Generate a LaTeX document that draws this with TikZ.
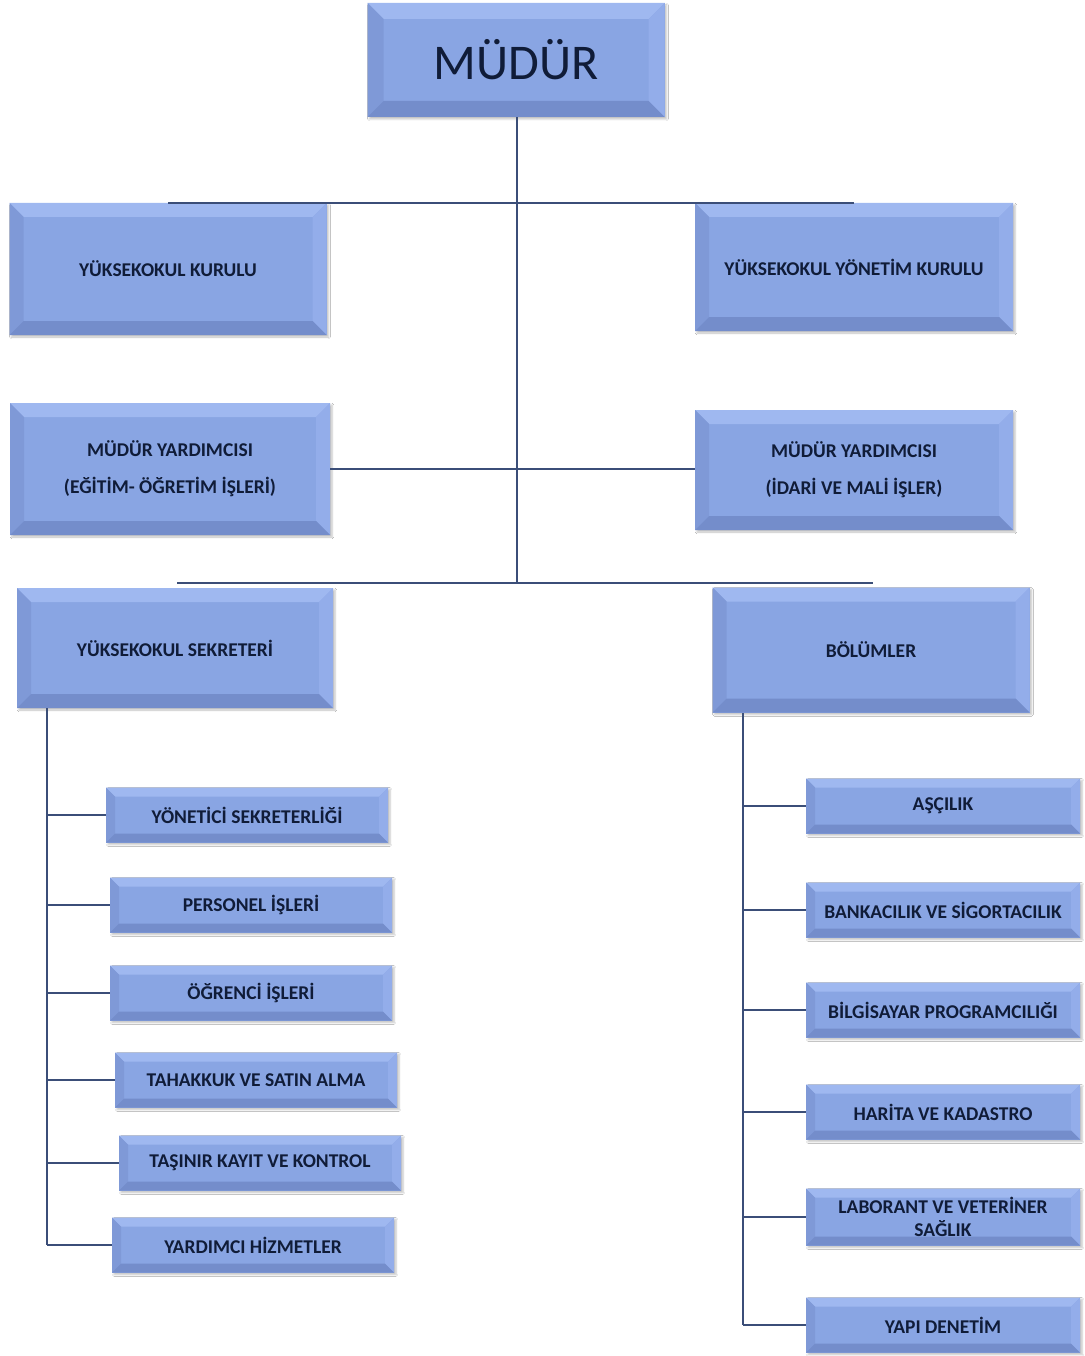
\documentclass[tikz,border=0pt]{standalone}
\usepackage{fontspec}
\setmainfont{Carlito}
\usepackage{xcolor}
\usepackage{tikz}
\usetikzlibrary{calc,positioning,shadows.blur}

\definecolor{boxface}{HTML}{89A5E3}
\definecolor{boxtop}{HTML}{9FB8F0}
\definecolor{boxleft}{HTML}{7F99D7}
\definecolor{boxright}{HTML}{93ADEA}
\definecolor{boxbot}{HTML}{748DCB}
\definecolor{txtnavy}{HTML}{101C38}
\definecolor{linecol}{HTML}{3B4E78}

\tikzset{
  bevel/.style={path picture={
    \fill[boxtop] (path picture bounding box.north west) -- (path picture bounding box.north east)
      -- ([shift={(-#1pt,-#1pt)}]path picture bounding box.north east) -- ([shift={(#1pt,-#1pt)}]path picture bounding box.north west) -- cycle;
    \fill[boxleft] (path picture bounding box.north west) -- (path picture bounding box.south west)
      -- ([shift={(#1pt,#1pt)}]path picture bounding box.south west) -- ([shift={(#1pt,-#1pt)}]path picture bounding box.north west) -- cycle;
    \fill[boxright] (path picture bounding box.north east) -- (path picture bounding box.south east)
      -- ([shift={(-#1pt,#1pt)}]path picture bounding box.south east) -- ([shift={(-#1pt,-#1pt)}]path picture bounding box.north east) -- cycle;
    \fill[boxbot] (path picture bounding box.south west) -- (path picture bounding box.south east)
      -- ([shift={(-#1pt,#1pt)}]path picture bounding box.south east) -- ([shift={(#1pt,#1pt)}]path picture bounding box.south west) -- cycle;
  }},
  unit/.style={fill=boxface, bevel=#1, text=txtnavy, align=center, inner sep=0pt,
    blur shadow={shadow xshift=2pt, shadow yshift=-2pt, shadow blur steps=4, shadow opacity=25}},
  bigbox/.style={unit=14, minimum width=318pt, minimum height=128pt, font=\fontsize{19.5}{37}\selectfont\bfseries},
  smallbox/.style={unit=9, minimum width=282pt, minimum height=55pt, font=\fontsize{19.5}{23}\selectfont\bfseries},
  link/.style={draw=linecol, line width=2.4pt}
}

\begin{document}
\begin{tikzpicture}[x=1pt, y=-1pt]
\useasboundingbox[fill=white] (0,0) rectangle (1084,1356);

%Top
\node[unit=16, minimum width=297pt, minimum height=114pt, font=\fontsize{50}{60}\selectfont] (mudur) at (516,60) {MÜDÜR};

%Boards
\node[bigbox, minimum height=132pt, minimum width=317pt] (kurul) at (168,269) {YÜKSEKOKUL KURULU};
\node[bigbox] (ykurul) at (854,267) {YÜKSEKOKUL YÖNETİM KURULU};

%Assistants
\node[bigbox, minimum height=132pt, minimum width=320pt] (yrd1) at (170,469) {MÜDÜR YARDIMCISI\\(EĞİTİM- ÖĞRETİM İŞLERİ)};
\node[bigbox, minimum height=120pt] (yrd2) at (854,470) {MÜDÜR YARDIMCISI\\(İDARİ VE MALİ İŞLER)};

%Secretary and departments
\node[bigbox, minimum height=120pt, minimum width=316pt] (sekreter) at (175,648) {YÜKSEKOKUL SEKRETERİ};
\node[bigbox, minimum height=125pt, minimum width=317pt] (bolum) at (871,650) {BÖLÜMLER};

%Secretary units
\node[smallbox] (ysek) at (247,815) {YÖNETİCİ SEKRETERLİĞİ};
\node[smallbox] (pers) at (251,905) {PERSONEL İŞLERİ};
\node[smallbox] (ogr) at (251,993) {ÖĞRENCİ İŞLERİ};
\node[smallbox] (tah) at (256,1080) {TAHAKKUK VE SATIN ALMA};
\node[smallbox] (tas) at (260,1163) {TAŞINIR KAYIT VE KONTROL};
\node[smallbox] (yhiz) at (253,1245) {YARDIMCI HİZMETLER};

%Programs
\node[smallbox, minimum width=274pt] (asc) at (943,806) {AŞÇILIK};
\node[smallbox, minimum width=274pt] (bank) at (943,910) {BANKACILIK VE SİGORTACILIK};
\node[smallbox, minimum width=274pt] (bilg) at (943,1010) {BİLGİSAYAR PROGRAMCILIĞI};
\node[smallbox, minimum width=274pt] (har) at (943,1112) {HARİTA VE KADASTRO};
\node[smallbox, minimum width=274pt, minimum height=57pt] (lab) at (943,1217) {LABORANT VE VETERİNER\\SAĞLIK};
\node[smallbox, minimum width=274pt] (yapi) at (943,1325) {YAPI DENETİM};

%Trunk
\coordinate (tbot) at (517,583);
\draw[link] (mudur.south -| tbot) -- (tbot);
\draw[link] (kurul.north) -- (ykurul.north);
\draw[link] (yrd1.east) -- (yrd1.east -| yrd2.west);
\draw[link] (177,583) -- (873,583);

%Left spine
\coordinate (lsp) at (47,708);
\draw[link] (lsp) -- (lsp |- yhiz.west);
\draw[link] (lsp |- ysek.west) -- (ysek.west);
\draw[link] (lsp |- pers.west) -- (pers.west);
\draw[link] (lsp |- ogr.west) -- (ogr.west);
\draw[link] (lsp |- tah.west) -- (tah.west);
\draw[link] (lsp |- tas.west) -- (tas.west);
\draw[link] (lsp |- yhiz.west) -- (yhiz.west);

%Right spine
\coordinate (rsp) at (743,713);
\draw[link] (rsp) -- (rsp |- yapi.west);
\draw[link] (rsp |- asc.west) -- (asc.west);
\draw[link] (rsp |- bank.west) -- (bank.west);
\draw[link] (rsp |- bilg.west) -- (bilg.west);
\draw[link] (rsp |- har.west) -- (har.west);
\draw[link] (rsp |- lab.west) -- (lab.west);
\draw[link] (rsp |- yapi.west) -- (yapi.west);

\end{tikzpicture}
\end{document}
